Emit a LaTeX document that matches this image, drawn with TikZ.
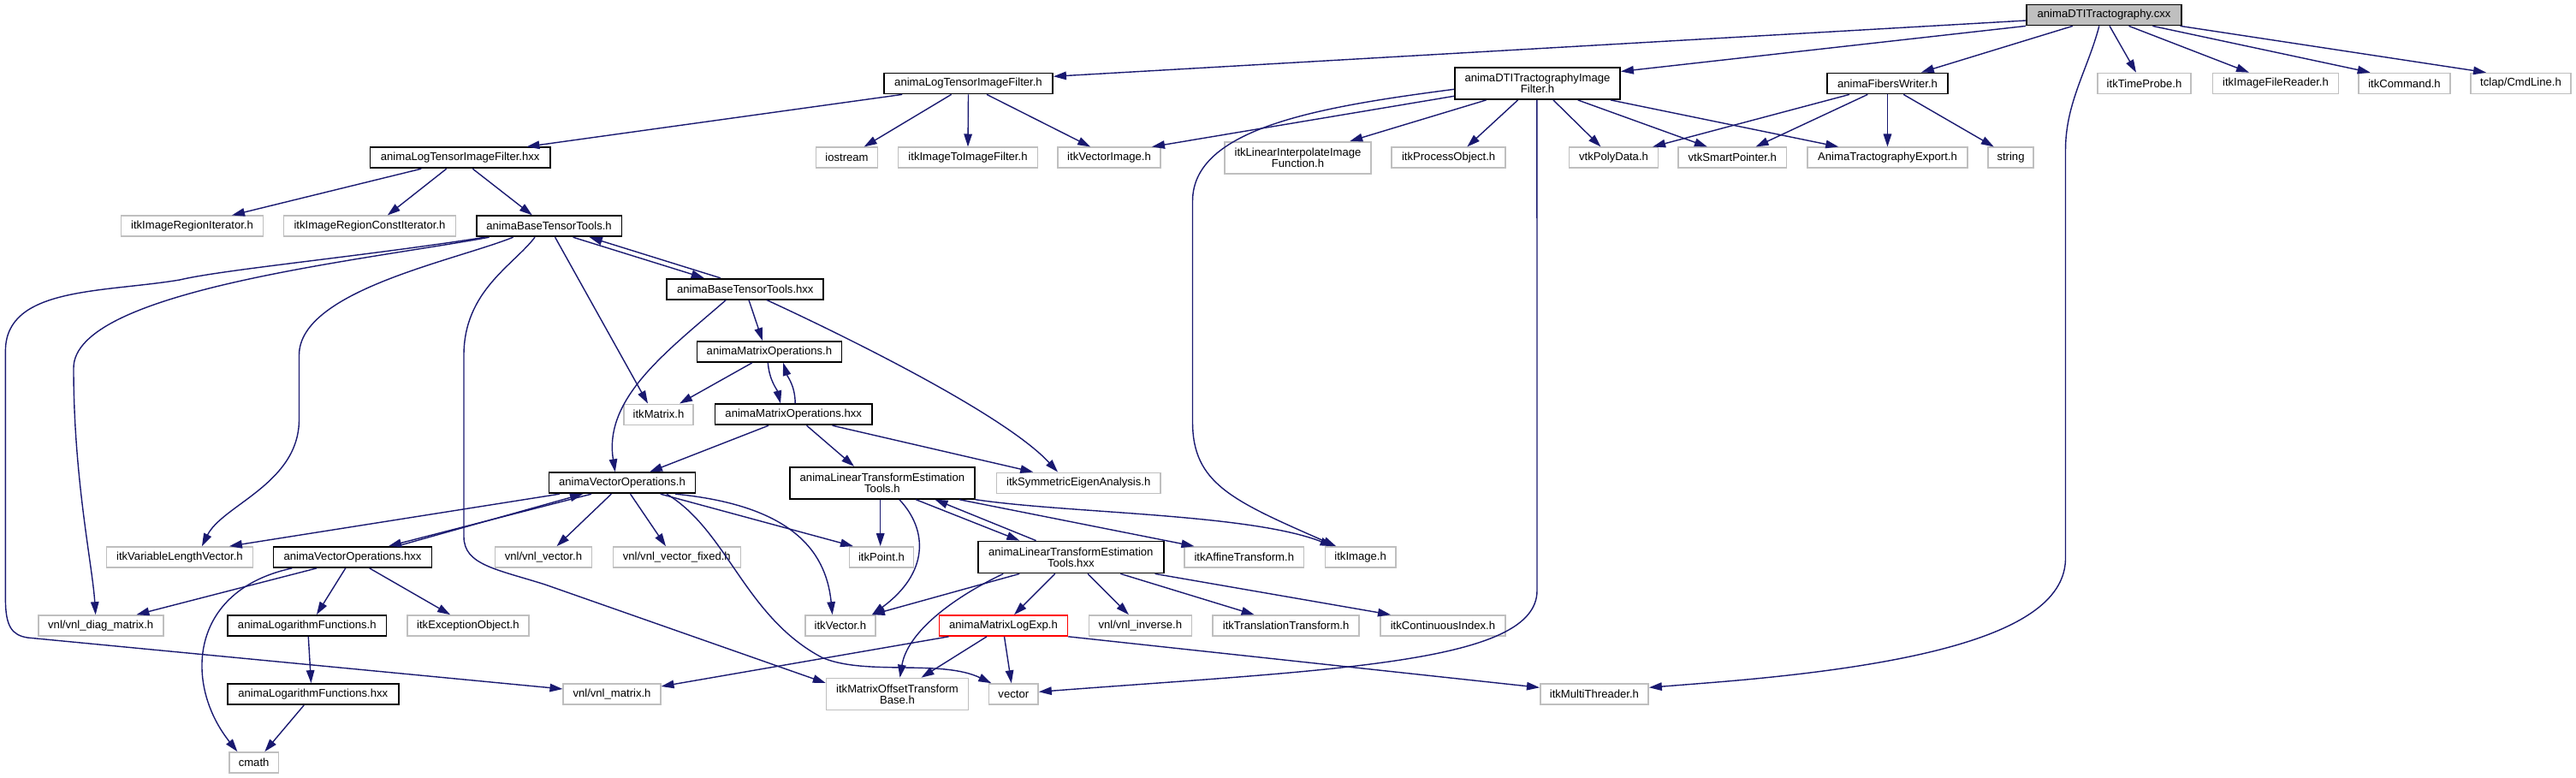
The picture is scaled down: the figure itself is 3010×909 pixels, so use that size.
\documentclass[tikz,border=0pt]{standalone}
\usepackage{fontspec}
\newfontfamily\nodefamily{Liberation Sans}
\usetikzlibrary{arrows.meta}
\definecolor{edgeblue}{HTML}{191970}
\definecolor{extgray}{HTML}{BFBFBF}
\tikzset{
  box/.style={fill=white, inner sep=0pt, minimum height=24pt, align=center,
    font=\nodefamily\fontsize{13.1}{13.3}\selectfont, line width=1.6pt},
  doc/.style={box, draw=black, line width=1.8pt},
  ext/.style={box, draw=extgray},
  two/.style={minimum height=37pt},
  edge/.style={draw=edgeblue, line width=1.4pt, -{Triangle[length=15pt,width=9.5pt]}},
}
\begin{document}
\begin{tikzpicture}[x=1pt,y=-1pt]
\useasboundingbox (0,0) rectangle (3010,909);
% row 0
\node[doc, fill=extgray, minimum width=181pt] (cxx) at (2458.5,17.5) {animaDTITractography.cxx};
% row 1
\node[doc, minimum width=197pt] (ltfh) at (1131.5,97.5) {animaLogTensorImageFilter.h};
\node[doc, two, minimum width=193pt] (dtif) at (1796.5,97.5) {animaDTITractographyImage\\Filter.h};
\node[doc, minimum width=141pt] (fw) at (2205.5,97.5) {animaFibersWriter.h};
\node[ext, minimum width=109pt] (timeprobe) at (2505.5,97.5) {itkTimeProbe.h};
\node[ext, minimum width=147pt] (filereader) at (2659,97.5) {itkImageFileReader.h};
\node[ext, minimum width=107pt] (command) at (2809.5,97.5) {itkCommand.h};
\node[ext, minimum width=117pt] (tclap) at (2945.5,97.5) {tclap/CmdLine.h};
% row 2
\node[doc, minimum width=210.5pt] (ltfhxx) at (537.7,184.3) {animaLogTensorImageFilter.hxx};
\node[ext, minimum width=72pt] (iostream) at (989.5,184.3) {iostream};
\node[ext, minimum width=162.7pt] (imtoim) at (1131,184.3) {itkImageToImageFilter.h};
\node[ext, minimum width=120pt] (vecimg) at (1296,184.3) {itkVectorImage.h};
\node[ext, two, minimum width=171pt] (linint) at (1516.5,184.3) {itkLinearInterpolateImage\\Function.h};
\node[ext, minimum width=132.7pt] (procobj) at (1692.6,184.3) {itkProcessObject.h};
\node[ext, minimum width=104pt] (polydata) at (1885.5,184.3) {vtkPolyData.h};
\node[ext, minimum width=126.6pt] (smartptr) at (2024.3,184.3) {vtkSmartPointer.h};
\node[ext, minimum width=187pt] (export) at (2205.5,184.3) {AnimaTractographyExport.h};
\node[ext, minimum width=53.5pt] (string) at (2349.5,184.3) {string};
% row 3
\node[ext, minimum width=165.8pt] (regit) at (224.5,264.3) {itkImageRegionIterator.h};
\node[ext, minimum width=201pt] (regcit) at (432,264.3) {itkImageRegionConstIterator.h};
\node[doc, minimum width=169.6pt] (btth) at (641.6,264.3) {animaBaseTensorTools.h};
% row 4
\node[doc, minimum width=183pt] (btthxx) at (870.8,337.7) {animaBaseTensorTools.hxx};
% row 5
\node[doc, minimum width=169pt] (moh) at (898.9,411) {animaMatrixOperations.h};
% row 6
\node[ext, minimum width=81pt] (matrix) at (769.5,484.3) {itkMatrix.h};
\node[doc, minimum width=183.5pt] (mohxx) at (927.2,484.3) {animaMatrixOperations.hxx};
% row 7
\node[doc, minimum width=171pt] (voh) at (727,564.3) {animaVectorOperations.h};
\node[doc, two, minimum width=216pt] (lteth) at (1030.9,564.3) {animaLinearTransformEstimation\\Tools.h};
\node[ext, minimum width=191.5pt] (symeig) at (1260.2,564.3) {itkSymmetricEigenAnalysis.h};
% row 8
\node[ext, minimum width=171pt] (varlen) at (209.9,651) {itkVariableLengthVector.h};
\node[doc, minimum width=185pt] (vohxx) at (412,651) {animaVectorOperations.hxx};
\node[ext, minimum width=113pt] (vnlvec) at (634.9,651) {vnl/vnl\_vector.h};
\node[ext, minimum width=149pt] (vnlvecf) at (790.8,651) {vnl/vnl\_vector\_fixed.h};
\node[ext, minimum width=75.3pt] (point) at (1030,651) {itkPoint.h};
\node[doc, two, minimum width=216.8pt] (ltethxx) at (1251.3,651) {animaLinearTransformEstimation\\Tools.hxx};
\node[ext, minimum width=139.7pt] (affine) at (1453.8,651) {itkAffineTransform.h};
\node[ext, minimum width=82.2pt] (image) at (1589.6,651) {itkImage.h};
% row 9
\node[ext, minimum width=146pt] (diag) at (117.7,731) {vnl/vnl\_diag\_matrix.h};
\node[doc, minimum width=185.5pt] (logf) at (358.8,731) {animaLogarithmFunctions.h};
\node[ext, minimum width=142pt] (except) at (546.9,731) {itkExceptionObject.h};
\node[ext, minimum width=82.3pt] (vector3) at (981.9,731) {itkVector.h};
\node[box, draw=red, minimum width=150pt] (mle) at (1172.5,731) {animaMatrixLogExp.h};
\node[ext, minimum width=120pt] (inverse) at (1332.3,731) {vnl/vnl\_inverse.h};
\node[ext, minimum width=171pt] (transl) at (1502.6,731) {itkTranslationTransform.h};
\node[ext, minimum width=146pt] (contidx) at (1685.9,731) {itkContinuousIndex.h};
% row 10
\node[doc, minimum width=199.6pt] (logfhxx) at (365.8,811) {animaLogarithmFunctions.hxx};
\node[ext, minimum width=113.5pt] (vnlmat) at (715,811) {vnl/vnl\_matrix.h};
\node[ext, two, minimum width=165.8pt] (motb) at (1048.5,811) {itkMatrixOffsetTransform\\Base.h};
\node[ext, minimum width=57.4pt] (vector) at (1184.3,811) {vector};
\node[ext, minimum width=126.3pt] (mthread) at (1862.9,811) {itkMultiThreader.h};
% row 11
\node[ext, minimum width=57.4pt] (cmath) at (296.6,891) {cmath};

% edges from cxx
\draw[edge] ([yshift=-6.5pt]cxx.west) -- ([yshift=8.2pt]ltfh.east);
\draw[edge] (cxx.south west) -- ([yshift=14pt]dtif.east);
\draw[edge] ([xshift=-36.6pt]cxx.south) -- ([xshift=39.3pt]fw.north);
\draw[edge] ([xshift=6.5pt]cxx.south) -- ([xshift=-9.5pt]timeprobe.north);
\draw[edge] ([xshift=29pt]cxx.south) -- ([xshift=-31pt]filereader.north);
\draw[edge] ([xshift=56.8pt]cxx.south) -- ([xshift=-39.8pt]command.north);
\draw[edge] ([xshift=89pt]cxx.south) -- ([xshift=-40.5pt]tclap.north);
\draw[edge] ([xshift=-5.7pt]cxx.south) .. controls (2440,80) and (2413.5,120) .. (2413.5,175) -- (2413.5,652) .. controls (2413.5,730) and (2280,775) .. (2000,797.5) -- ([yshift=7.7pt]mthread.east);

% ltfh
\draw[edge] ([xshift=-77.3pt]ltfh.south) -- ([xshift=77.7pt]ltfhxx.north);
\draw[edge] ([xshift=-19.9pt]ltfh.south) -- ([xshift=20.1pt]iostream.north);
\draw[edge] (ltfh.south) -- (imtoim.north);
\draw[edge] ([xshift=21.5pt]ltfh.south) -- ([xshift=-21.8pt]vecimg.north);

% dtif
\draw[edge] ([yshift=-14.8pt]dtif.west) -- ([xshift=50pt]vecimg.north);
\draw[edge] ([yshift=-6.8pt]dtif.west) .. controls (1540,125) and (1393.5,150) .. (1393.5,235) -- (1393.5,493) .. controls (1393.5,565) and (1440,585) .. ([xshift=-28.4pt]image.north);
\draw[edge] ([xshift=-59.9pt]dtif.south) -- ([xshift=60.7pt]linint.north);
\draw[edge] ([xshift=-22.9pt]dtif.south) -- ([xshift=21.7pt]procobj.north);
\draw[edge] ([xshift=-0.6pt]dtif.south) -- (1796,690) .. controls (1796,775) and (1560,782) .. ([yshift=2.7pt]vector.east);
\draw[edge] ([xshift=18.5pt]dtif.south) -- ([xshift=-15pt]polydata.north);
\draw[edge] ([xshift=47.2pt]dtif.south) -- ([xshift=-29.4pt]smartptr.north);
\draw[edge] ([xshift=85.5pt]dtif.south) -- ([xshift=-57.3pt]export.north);

% fw
\draw[edge] ([xshift=-44.5pt]fw.south) -- ([xshift=45.6pt]polydata.north);
\draw[edge] ([xshift=-23.2pt]fw.south) -- ([xshift=27.2pt]smartptr.north);
\draw[edge] (fw.south) -- (export.north);
\draw[edge] ([xshift=18.7pt]fw.south) -- ([xshift=-19.7pt]string.north);

% ltfhxx
\draw[edge] ([xshift=-45.4pt]ltfhxx.south) -- ([xshift=46.5pt]regit.north);
\draw[edge] ([xshift=-16pt]ltfhxx.south) -- ([xshift=20.8pt]regcit.north);
\draw[edge] ([xshift=14.6pt]ltfhxx.south) -- ([xshift=-19.8pt]btth.north);

% btth
\draw[edge] ([xshift=28pt]btth.south) -- ([xshift=-48.1pt]btthxx.north);
\draw[edge] ([xshift=-29pt]btthxx.north) -- ([xshift=47.2pt]btth.south);
\draw[edge] ([xshift=7pt]btth.south) -- ([xshift=-12.5pt]matrix.north);
\draw[edge] ([xshift=-75pt]btth.south) .. controls (420,300) and (260,315) .. (210,327) .. controls (120,342) and (6.4,335) .. (6.4,410) -- (6.4,700) .. controls (6.4,732) and (14,742) .. (32,745) -- ([yshift=6pt]vnlmat.west);
\draw[edge] ([xshift=-70pt]btth.south) .. controls (420,305) and (86,340) .. (86,430) .. controls (86,560) and (108,660) .. ([xshift=-6pt]diag.north);
\draw[edge] ([xshift=-42pt]btth.south) .. controls (530,305) and (349.5,340) .. (349.5,415) -- (349.5,490) .. controls (349.5,565) and (260,590) .. ([xshift=26pt]varlen.north);
\draw[edge] ([xshift=-16.6pt]btth.south) .. controls (600,310) and (542,340) .. (542,415) -- (542,627) .. controls (542,660) and (580,665) .. (637,683) -- ([yshift=13pt]motb.west);

% btthxx
\draw[edge] ([xshift=-22.6pt]btthxx.south) .. controls (780,410) and (705,465) .. ([xshift=-8.2pt]voh.north);
\draw[edge] ([xshift=4.2pt]btthxx.south) -- ([xshift=-7.9pt]moh.north);
\draw[edge] ([xshift=25.2pt]btthxx.south) .. controls (960,380) and (1170,480) .. ([xshift=-24.2pt]symeig.north);

% moh
\draw[edge] ([xshift=-20.1pt]moh.south) -- ([xshift=24.5pt]matrix.north);
\draw[edge] ([xshift=-1.6pt]moh.south) .. controls (899,445) and (908,455) .. ([xshift=-15.2pt]mohxx.north);
\draw[edge] ([xshift=2pt]mohxx.north) .. controls (929,450) and (920,440) .. ([xshift=16.3pt]moh.south);

% mohxx
\draw[edge] ([xshift=-29.2pt]mohxx.south) -- ([xshift=32pt]voh.north);
\draw[edge] ([xshift=15.4pt]mohxx.south) -- ([xshift=-32.9pt]lteth.north);
\draw[edge] ([xshift=45.4pt]mohxx.south) -- ([xshift=-52.9pt]symeig.north);

% voh
\draw[edge] ([xshift=-73.3pt]voh.south) -- ([xshift=58pt]varlen.north);
\draw[edge] ([xshift=-36pt]voh.south) -- ([xshift=42pt]vohxx.north);
\draw[edge] ([xshift=52pt]vohxx.north) -- ([xshift=-46pt]voh.south);
\draw[edge] ([xshift=-12.7pt]voh.south) -- ([xshift=15.6pt]vnlvec.north);
\draw[edge] ([xshift=9.6pt]voh.south) -- ([xshift=-12.8pt]vnlvecf.north);
\draw[edge] ([xshift=44.7pt]voh.south) -- ([xshift=-33pt]point.north);
\draw[edge] ([xshift=62pt]voh.south) .. controls (920,590) and (965,640) .. ([xshift=-9.3pt]vector3.north);
\draw[edge] ([xshift=52pt]voh.south) .. controls (850,620) and (870,720) .. (960,768) .. controls (1010,790) and (1100,770) .. ([xshift=-26pt]vector.north);

% lteth
\draw[edge] ([xshift=-2.2pt]lteth.south) -- ([xshift=-1.3pt]point.north);
\draw[edge] ([xshift=20pt]lteth.south) .. controls (1085,620) and (1085,670) .. ([xshift=37pt]vector3.north);
\draw[edge] ([xshift=39.3pt]lteth.south) -- ([xshift=-60pt]ltethxx.north);
\draw[edge] ([xshift=-40.8pt]ltethxx.north) -- ([xshift=61.6pt]lteth.south);
\draw[edge] ([xshift=90pt]lteth.south) -- ([xshift=-58.4pt]affine.north);
\draw[edge] (lteth.south east) .. controls (1250,600) and (1460,600) .. ([xshift=-32pt]image.north);

% ltethxx
\draw[edge] ([xshift=-60pt]ltethxx.south) -- ([xshift=37pt]vector3.north);
\draw[edge] ([xshift=-79pt]ltethxx.south) .. controls (1110,700) and (1060,740) .. ([xshift=3pt]motb.north);
\draw[edge] ([xshift=-18.5pt]ltethxx.south) -- ([xshift=12.5pt]mle.north);
\draw[edge] ([xshift=19.7pt]ltethxx.south) -- ([xshift=-13.4pt]inverse.north);
\draw[edge] ([xshift=58pt]ltethxx.south) -- ([xshift=-37pt]transl.north);
\draw[edge] ([xshift=98.2pt]ltethxx.south) -- ([xshift=-60.9pt]contidx.north);

% mle
\draw[edge] ([xshift=-64pt]mle.south) -- ([yshift=9pt]vnlmat.east);
\draw[edge] ([xshift=-19.5pt]mle.south) -- ([xshift=28pt]motb.north);
\draw[edge] ([xshift=1pt]mle.south) -- ([xshift=-2.5pt]vector.north);
\draw[edge] (mle.south east) -- ([yshift=7.7pt]mthread.west);

% vohxx
\draw[edge] ([xshift=-42pt]vohxx.south) -- ([xshift=41.7pt]diag.north);
\draw[edge] ([xshift=-70.8pt]vohxx.south) .. controls (220,690) and (215,800) .. ([xshift=-19.2pt]cmath.north);
\draw[edge] ([xshift=-8.3pt]vohxx.south) -- ([xshift=11.1pt]logf.north);
\draw[edge] ([xshift=19.8pt]vohxx.south) -- ([xshift=-20.8pt]except.north);

% logarithm functions
\draw[edge] ([xshift=1.5pt]logf.south) -- ([xshift=-2.3pt]logfhxx.north);
\draw[edge] ([xshift=-10.6pt]logfhxx.south) -- ([xshift=12.7pt]cmath.north);
\end{tikzpicture}
\end{document}
